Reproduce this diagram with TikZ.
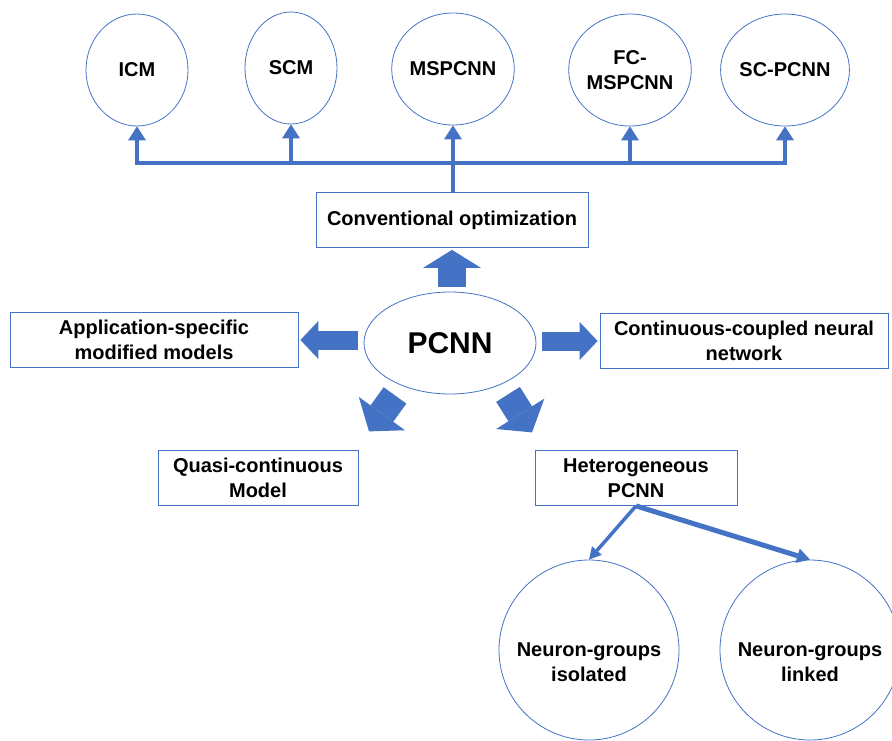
\documentclass[tikz,border=0pt]{standalone}
\usepackage{fontspec}
\setmainfont{Liberation Sans}
\usetikzlibrary{shapes.geometric,arrows.meta,calc}
\definecolor{pcblue}{HTML}{4472C4}
\newcommand{\lblfont}{\bfseries\fontsize{20}{25}\selectfont}

\begin{document}
\begin{tikzpicture}[x=1pt,y=-1pt,
        oval/.style={ellipse, draw=pcblue, line width=0.8pt, inner sep=0pt, align=center, font=\lblfont},
        box/.style={rectangle, draw=pcblue, line width=0.8pt, minimum height=55pt, inner sep=0pt, align=center, font=\lblfont},
        lowtext/.style={label={[font=\lblfont, align=center, yshift=-12pt]center:#1}},
        blockarrow/.style n args={3}{draw=pcblue, line width=#1, -{Triangle[length=#2, width=#3, line width=0pt]}},
        busline/.style={draw=pcblue, line width=4pt, line cap=rect},
        busarrow/.style={draw=pcblue, line width=4pt, -{Triangle[length=14pt, width=18pt, line width=0pt]}}]
        \clip (0,0) rectangle (892,740);

        \node[oval, minimum width=102pt, minimum height=112pt] (icm) at (137,70) {ICM};
        \node[oval, minimum width=92pt, minimum height=112pt] (scm) at (291,68) {SCM};
        \node[oval, minimum width=102pt, minimum height=112pt] (mspcnn) at (453,69) {MSPCNN};
        \node[oval, minimum width=103pt, minimum height=112pt] (fcm) at (630,70) {FC-\\MSPCNN};
        \node[oval, minimum width=103pt, minimum height=112pt] (scpcnn) at (785,70) {SC-PCNN};

        \node[box, minimum width=272pt] (conv) at (452,220) {Conventional optimization};
        \node[oval, minimum width=172pt, minimum height=102pt, font=\bfseries\fontsize{30}{36}\selectfont] (pcnn) at (450,343) {PCNN};
        \node[box, minimum width=288pt] (app) at (154,340) {Application-specific\\modified models};
        \node[box, minimum width=288pt] (cont) at (744,341) {Continuous-coupled neural\\network};
        \node[box, minimum width=200pt] (quasi) at (258,478) {Quasi-continuous\\Model};
        \node[box, minimum width=202pt] (hetero) at (636,478) {Heterogeneous\\PCNN};
        \node[oval, circle, minimum size=180pt, lowtext={Neuron-groups\\isolated}] (isol) at (589,650) {};
        \node[oval, circle, minimum size=180pt, lowtext={Neuron-groups\\linked}] (link) at (810,650) {};

        \coordinate (bus) at (453,163);
        \draw[busline] (icm |- bus) -- (scpcnn |- bus);
        \foreach \n in {icm,scm,fcm,scpcnn}
            \draw[busarrow] (\n |- bus) -- (\n.south);
        \draw[busarrow] (mspcnn |- conv.north) -- (mspcnn.south);

        \draw[blockarrow={28pt}{18pt}{58pt}, shorten <=5pt, shorten >=2pt] (conv.south |- pcnn.north) -- (conv.south);
        \draw[blockarrow={19pt}{18pt}{38pt}, shorten <=6pt, shorten >=2pt] (app.east -| pcnn.west) -- (app.east);
        \draw[blockarrow={19pt}{18pt}{38pt}, shorten <=6pt, shorten >=2pt] (cont.west -| pcnn.east) -- (cont.west);
        \draw[blockarrow={28pt}{22pt}{57pt}] ($(pcnn.south)+(-55,1)$) -- ++(-26,36);
        \draw[blockarrow={28pt}{22pt}{57pt}] ($(pcnn.south)+(58,0)$) -- ++(24,38);

        \draw[draw=pcblue, line width=3.5pt, -{Triangle[length=12pt, width=13pt, line width=0pt]}] (hetero.south) -- (isol.north);
        \draw[draw=pcblue, line width=5pt, -{Triangle[length=13pt, width=15pt, line width=0pt]}] (hetero.south) -- (link.north);
    \end{tikzpicture}
\end{document}
